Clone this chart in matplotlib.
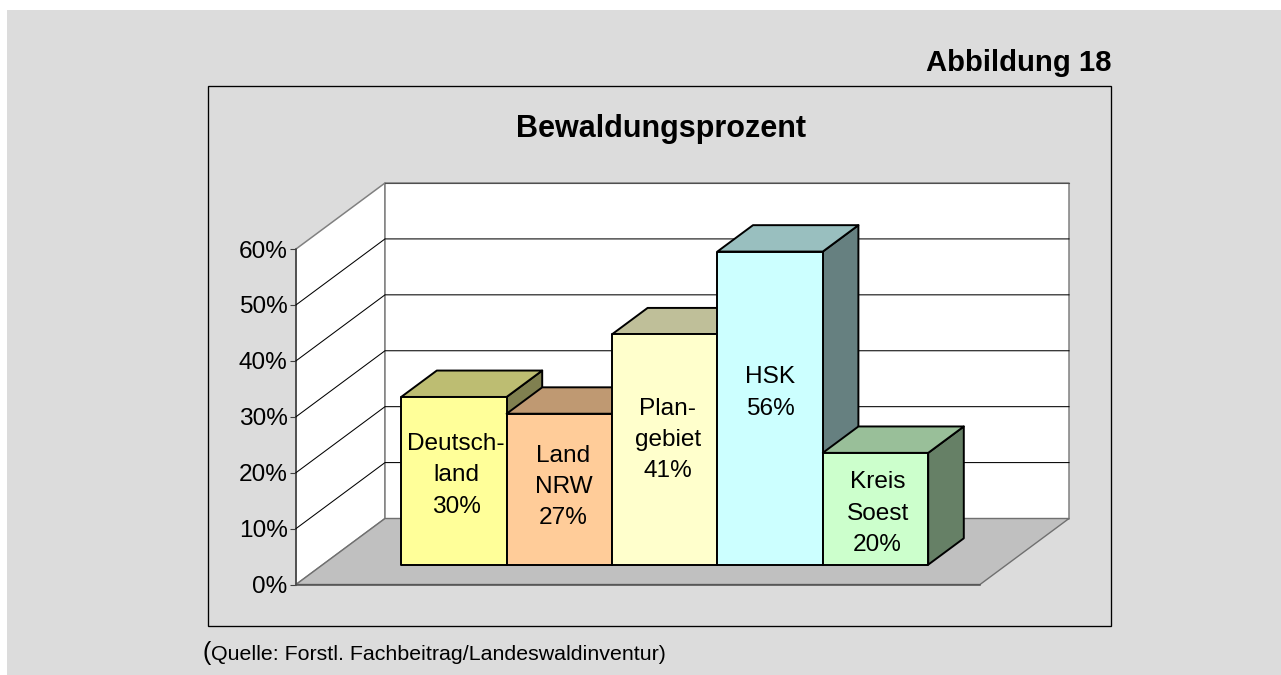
import matplotlib
matplotlib.use('Agg')
import matplotlib.pyplot as plt
from matplotlib.patches import Polygon, Rectangle

plt.rcParams['font.family'] = ['Liberation Sans', 'DejaVu Sans']

# data
labels = ['Deutsch-\nland\n30%', 'Land\nNRW\n27%', 'Plan-\ngebiet\n41%', 'HSK\n56%', 'Kreis\nSoest\n20%']
values = [30, 27, 41.2, 56, 20]
label_y = [16.0, 13.9, 22.3, 30.7, 9.1]
label_dx = [0.02, 0.04, 0.03, 0.0, 0.02]
front_colors = ['#FFFF99', '#FFCC99', '#FFFFCC', '#CCFFFF', '#CCFFCC']
top_colors = ['#BDBD72', '#BF9972', '#BFBF99', '#99BFBF', '#99BF99']
side_colors = ['#808050', '#806648', '#808066', '#668080', '#668066']
ticks = [0, 10, 20, 30, 40, 50, 60]

W, H = 1281, 675
BG = '#DCDCDC'
fig = plt.figure(figsize=(W/100, H/100), dpi=100, facecolor='white')

# page layer in pixel coordinates
page = fig.add_axes([0, 0, 1, 1])
page.set_xlim(0, W)
page.set_ylim(H, 0)
page.axis('off')
page.add_patch(Rectangle((7, 10), W-7, H-10, fc=BG, ec='none'))
page.add_patch(Rectangle((207.5, 86), 903, 539.5, fc=BG, ec='black', lw=0.95))
page.text(1112, 63, 'Abbildung 18', fontsize=21.1, fontweight='bold', ha='right', va='center')
page.text(661, 129, 'Bewaldungsprozent', fontsize=22, fontweight='bold', ha='center', va='center')
page.text(202, 653, '(', fontsize=18, ha='left', va='center')
page.text(211, 654, 'Quelle: Forstl. Fachbeitrag/Landeswaldinventur)', fontsize=15.4, ha='left', va='center')

# chart layer: x in categories, y in percent, oblique depth added by hand
x0, x1, y0, y60 = 296, 980, 584.5, 249
ax = fig.add_axes([x0/W, 1-y0/H, (x1-x0)/W, (y0-y60)/H])
ax.set_facecolor('none')
CAT = 105.4
XMAX = (x1-x0)/CAT
ax.set_xlim(0, XMAX)
ax.set_ylim(0, 60)
DX = 89/CAT
DY = 66/((y0-y60)/60)
GAP = (XMAX-len(values))/2
for s in ax.spines.values():
    s.set_visible(False)
ax.set_xticks([])
ax.set_yticks(ticks)
ax.set_yticklabels(['%d%%' % t for t in ticks], fontsize=17.6)
ax.tick_params(axis='y', length=4.5, width=0.8, color='#404040', pad=1.5)


def pr(x, y, d):
    return (x+d*DX, y+d*DY)


def poly(pts, fc, ec, lw, z):
    ax.add_patch(Polygon(pts, closed=True, fc=fc, ec=ec, lw=lw, zorder=z, clip_on=False, joinstyle='round'))


# walls and floor
poly([pr(0, 0, 0), pr(0, 60, 0), pr(0, 60, 1), pr(0, 0, 1)], 'white', '#808080', 1.1, 1)
poly([pr(0, 0, 1), pr(0, 60, 1), pr(XMAX, 60, 1), pr(XMAX, 0, 1)], 'white', '#808080', 1.1, 1)
poly([pr(0, 0, 0), pr(XMAX, 0, 0), pr(XMAX, 0, 1), pr(0, 0, 1)], '#C0C0C0', '#707070', 1.0, 1.5)
ax.plot([0, 0], [0, 60], color='#404040', lw=1.1, zorder=2, clip_on=False)
ax.plot([0, XMAX], [0, 0], color='#505050', lw=1.1, zorder=2, clip_on=False)

# grid lines along both walls
for t in ticks[1:-1]:
    a, b, c = pr(0, t, 0), pr(0, t, 1), pr(XMAX, t, 1)
    ax.plot([a[0], b[0], c[0]], [a[1], b[1], c[1]], color='black', lw=0.75, zorder=2, clip_on=False)
a, b = pr(0, 60, 1), pr(XMAX, 60, 1)
ax.plot([a[0], b[0]], [a[1], b[1]], color='#505050', lw=0.8, zorder=2, clip_on=False)

# bars, left to right so each one covers the side of the one before
D0, D1 = 0.3, 0.7
for i, v in enumerate(values):
    l, r = GAP+i, GAP+i+1
    z = 3+i
    poly([pr(r, 0, D0), pr(r, v, D0), pr(r, v, D1), pr(r, 0, D1)], side_colors[i], 'black', 1.4, z)
    poly([pr(l, v, D0), pr(r, v, D0), pr(r, v, D1), pr(l, v, D1)], top_colors[i], 'black', 1.4, z)
    poly([pr(l, 0, D0), pr(r, 0, D0), pr(r, v, D0), pr(l, v, D0)], front_colors[i], 'black', 1.4, z)
    tx, ty = pr(l+0.5+label_dx[i], label_y[i], D0)
    ax.text(tx, ty, labels[i], fontsize=17.6, ha='center', va='center', linespacing=1.55, zorder=20, clip_on=False)

fig.savefig('out.png', dpi=100, facecolor='white')
